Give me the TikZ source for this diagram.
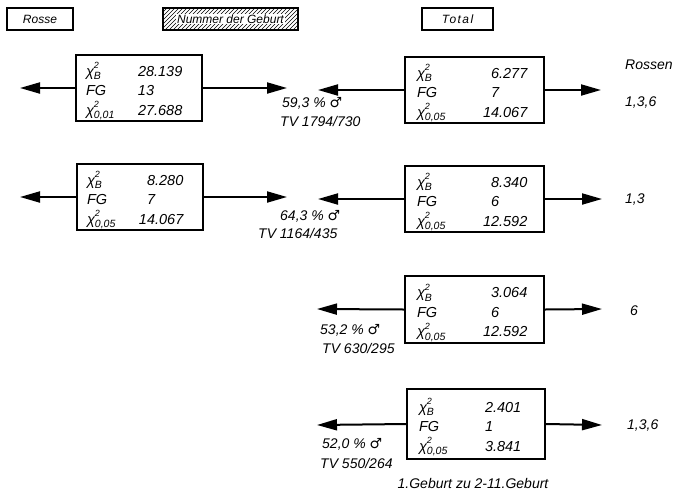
\documentclass[tikz,border=0pt]{standalone}
\usepackage{fontspec}
\setmainfont{Liberation Sans}
\newfontfamily\symfont{DejaVu Sans}
\usetikzlibrary{arrows.meta}
\newcommand{\chiq}[1]{χ\smash{\rlap{\raisebox{7.5pt}{\fontsize{9}{9}\selectfont 2}}\raisebox{-3.5pt}{\fontsize{10.5}{10.5}\selectfont #1}}}
\newcommand{\male}{{\symfont\upshape ♂}}
\newcommand{\stattab}[9]{\parbox[c]{#9}{%
 \begin{tabular}{@{\hspace{#1}}p{#2}@{}r@{}l@{}}
 \rule{0pt}{21pt}\chiq{B} & #3 & #4\\
 FG & #5 & \\
 \chiq{#6} & #7 & #8
 \end{tabular}}}
\tikzset{
 statbox/.style={draw, line width=2pt, inner sep=0pt, minimum height=66pt,
   font=\fontsize{14.5}{19.5}\selectfont\itshape},
 arr/.style={line width=2pt, -{Triangle[length=20pt,width=11pt]}},
 lbl/.style={inner sep=0pt, anchor=west, font=\fontsize{14}{17}\selectfont\itshape},
 hdr/.style={draw, line width=2pt, minimum height=22pt, inner sep=0pt,
   font=\fontsize{12}{14}\selectfont\itshape},
 hatch/.style={path picture={
   \foreach \k in {-30,-26,...,140}{
     \draw[line width=0.6pt] ([xshift=\k pt]path picture bounding box.south west) -- ++(30pt,30pt);}}}
}
\begin{document}
\begin{tikzpicture}[x=1pt,y=-1pt]
\useasboundingbox (0,0) rectangle (683,491);
% headers
\node[hdr, minimum width=66pt] (rasse) at (40,19) {Rosse};
\node[hdr, minimum width=135pt, hatch] (num) at (230.5,19)
  {\setlength{\fboxsep}{1pt}\colorbox{white}{Nummer der Geburt}};
\node[hdr, minimum width=71pt] (total) at (457.5,19) {\addfontfeature{LetterSpace=12}Total};
% row 1
\node[statbox, minimum width=126pt] (L1) at (139,88) {\stattab{10pt}{52pt}{28}{.139}{13}{0,01}{27}{.688}{126pt}};
\node[statbox, minimum width=139pt] (R1) at (474.5,90) {\stattab{12pt}{66pt}{6}{.277}{7}{0,05}{14}{.067}{139pt}};
\coordinate (L1l) at (20,88); \coordinate (L1r) at (287,88);
\coordinate (R1l) at (318,90); \coordinate (R1r) at (601,90);
\draw[arr] (L1.west) -- (L1l);
\draw[arr] (L1.east) -- (L1r);
\draw[arr] (R1.west) -- (R1l);
\draw[arr] (R1.east) -- (R1r);
\node[lbl] (p1a) at (282,103) {59,3 \% \male};
\node[lbl] (p1b) at (280,121) {TV 1794/730};
\node[lbl] (t1a) at (625,65) {Rossen};
\node[lbl] (t1b) at (625,103) {1,3,6};
% row 2
\node[statbox, minimum width=126pt] (L2) at (140,197) {\stattab{10pt}{52pt}{8}{.280}{7}{0,05}{14}{.067}{126pt}};
\node[statbox, minimum width=139pt] (R2) at (474.5,199) {\stattab{12pt}{66pt}{8}{.340}{6}{0,05}{12}{.592}{139pt}};
\coordinate (L2l) at (20,197); \coordinate (L2r) at (287,197);
\coordinate (R2l) at (318,199); \coordinate (R2r) at (602,199);
\draw[arr] (L2.west) -- (L2l);
\draw[arr] (L2.east) -- (L2r);
\draw[arr] (R2.west) -- (R2l);
\draw[arr] (R2.east) -- (R2r);
\node[lbl] (p2a) at (280,216) {64,3 \% \male};
\node[lbl] (p2b) at (258,233) {TV 1164/435};
\node[lbl] (t2) at (625,200) {1,3};
% row 3
\node[statbox, minimum width=139pt, minimum height=67pt] (R3) at (474.5,309.5) {\stattab{12pt}{66pt}{3}{.064}{6}{0,05}{12}{.592}{139pt}};
\coordinate (R3l) at (317,309); \coordinate (R3r) at (602,309);
\draw[arr] (R3.west) -- (R3l);
\draw[arr] (R3.east) -- (R3r);
\node[lbl] (p3a) at (320,330) {53,2 \% \male};
\node[lbl] (p3b) at (322,348) {TV 630/295};
\node[lbl] (t3) at (630,311) {6};
% row 4
\node[statbox, minimum width=138pt, minimum height=70pt] (R4) at (476,424) {\stattab{12pt}{66pt}{2}{.401}{1}{0,05}{3}{.841}{138pt}};
\coordinate (R4l) at (317,425); \coordinate (R4r) at (602,425);
\draw[arr] (R4.west) -- (R4l);
\draw[arr] (R4.east) -- (R4r);
\node[lbl] (p4a) at (322,444) {52,0 \% \male};
\node[lbl] (p4b) at (320,463) {TV 550/264};
\node[lbl] (t4) at (627,425) {1,3,6};
\node[lbl, anchor=center] (cap) at (473,483) {1.Geburt zu 2-11.Geburt};
\end{tikzpicture}
\end{document}
